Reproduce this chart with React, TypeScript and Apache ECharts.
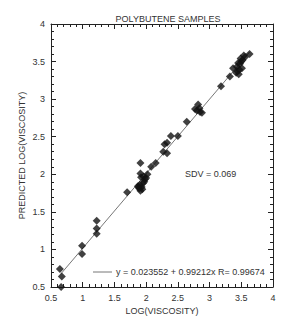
import React, { useEffect, useRef } from "react";
import * as echarts from "echarts";

const xValues = [0.64, 0.67, 0.66, 0.99, 0.99, 1.22, 1.22, 1.22,
  1.70, 1.87, 1.89, 1.91, 1.90, 1.93, 1.95, 1.97, 1.98, 1.92, 1.91, 1.96, 2.02, 2.00, 1.91, 1.94, 1.88, 2.08, 2.15,
  2.27, 2.33, 2.29, 2.33, 2.39, 2.50, 2.64,
  2.77, 2.82, 2.84, 2.85, 2.88, 2.80,
  3.18, 3.32, 3.37, 3.43, 3.44, 3.46, 3.48, 3.52, 3.51, 3.56, 3.54, 3.63, 3.49, 3.45, 3.50, 3.47, 3.42];
const yValues = [0.74, 0.64, 0.50, 1.05, 0.94, 1.38, 1.28, 1.21,
  1.76, 1.84, 1.81, 1.78, 1.86, 1.83, 1.88, 1.90, 1.93, 1.96, 2.01, 1.97, 2.00, 1.95, 2.15, 1.80, 1.83, 2.10, 2.15,
  2.30, 2.28, 2.40, 2.42, 2.51, 2.51, 2.70,
  2.87, 2.93, 2.88, 2.83, 2.82, 2.85,
  3.17, 3.30, 3.41, 3.43, 3.37, 3.33, 3.47, 3.52, 3.41, 3.56, 3.58, 3.60, 3.54, 3.48, 3.50, 3.39, 3.35];

const intercept = 0.023552;
const slope = 0.99212;
const fitRange = [0.65, 3.63];

const title = "POLYBUTENE SAMPLES";
const xName = "LOG(VISCOSITY)";
const yName = "PREDICTED LOG(VISCOSITY)";
const sdvText = "SDV = 0.069";
const fitText = "y = 0.023552 + 0.99212x R= 0.99674";

const FONT = "'Liberation Sans', Arial, sans-serif";
const TXT = "#333";

export default function App() {
  const ref = useRef<HTMLDivElement>(null);
  useEffect(() => {
    const chart = echarts.init(ref.current!, null, { renderer: "svg" });
    const points = xValues.map((x, i) => [x, yValues[i]]);
    const fitLine = fitRange.map((x) => [x, intercept + slope * x]);
    const axisCommon = (show: boolean) => ({
      type: "value" as const,
      min: 0.5,
      max: 4,
      interval: 0.5,
      axisLine: { show: true, onZero: false, lineStyle: { color: "#222", width: 1 } },
      axisTick: { show: true, inside: true, length: 5, lineStyle: { color: "#222" } },
      minorTick: { show: true, splitNumber: 5, length: 3, lineStyle: { color: "#222" } },
      splitLine: { show: false },
      axisLabel: { show, color: TXT, fontSize: 9, fontFamily: FONT, margin: 6 },
    });
    chart.setOption({
      animation: false,
      backgroundColor: "#fff",
      title: {
        text: title,
        left: 163,
        top: 9,
        textAlign: "center",
        textStyle: { fontSize: 9, fontWeight: "normal", color: TXT, fontFamily: FONT },
      },
      grid: { left: 51, top: 24, right: 27, bottom: 44 },
      xAxis: [
        {
          ...axisCommon(true),
          position: "bottom",
          name: xName,
          nameLocation: "middle",
          nameGap: 19,
          nameMoveOverlap: false,
          nameTextStyle: { fontSize: 9, color: TXT, fontFamily: FONT },
        },
        { ...axisCommon(false), position: "top" },
      ],
      yAxis: [
        {
          ...axisCommon(true),
          position: "left",
          name: yName,
          nameLocation: "middle",
          nameGap: 25,
          nameMoveOverlap: false,
          nameTextStyle: { fontSize: 9, color: TXT, fontFamily: FONT },
        },
        { ...axisCommon(false), position: "right" },
      ],
      series: [
        {
          type: "line",
          data: fitLine,
          symbol: "none",
          lineStyle: { color: "#777", width: 1 },
          z: 1,
        },
        {
          type: "scatter",
          data: points,
          symbol: "diamond",
          symbolSize: 8,
          itemStyle: { color: "#111" },
          z: 2,
        },
      ],
      graphic: [
        {
          type: "text",
          left: 185,
          top: 169,
          style: { text: sdvText, fontSize: 9, fill: TXT, fontFamily: FONT },
        },
        {
          type: "line",
          shape: { x1: 93, y1: 272, x2: 112, y2: 272 },
          style: { stroke: "#777", lineWidth: 1 },
        },
        {
          type: "text",
          left: 116,
          top: 267,
          style: { text: fitText, fontSize: 9, fill: TXT, fontFamily: FONT },
        },
      ],
    });
    return () => chart.dispose();
  }, []);
  return <div ref={ref} style={{ width: 300, height: 331, position: "absolute", left: 0, top: 0 }} />;
}
